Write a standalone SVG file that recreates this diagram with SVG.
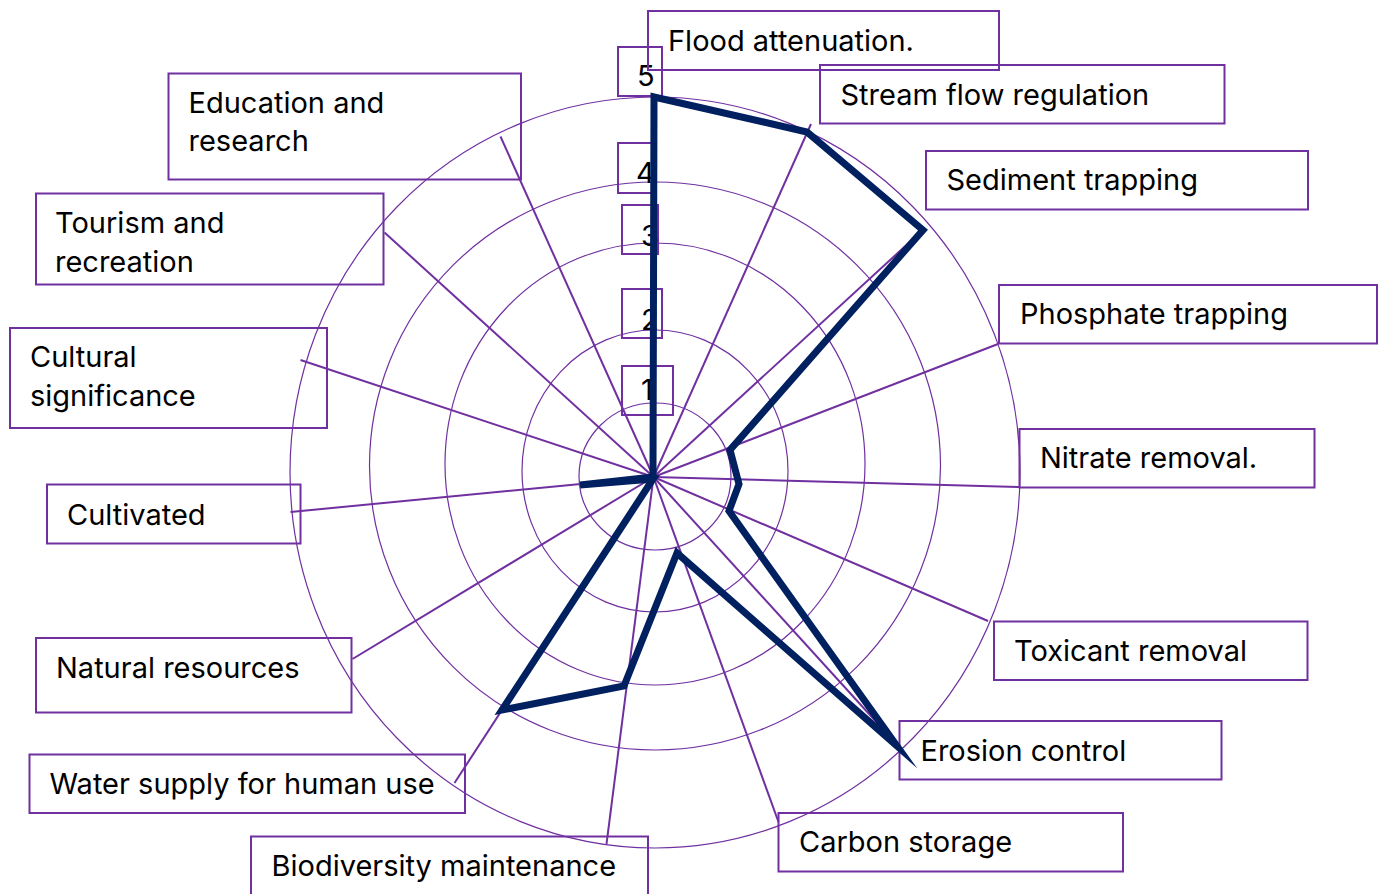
<svg xmlns="http://www.w3.org/2000/svg" width="1378" height="894" viewBox="0 0 1378 894">
<style>
.bg{fill:#fff}
.ring{fill:none;stroke:#7030A0;stroke-width:1.2}
.spoke{stroke:#7030A0;stroke-width:2;fill:none}
.box{fill:none;stroke:#7030A0;stroke-width:2}
.lbl{font-family:Inter,"Liberation Sans",sans-serif;font-size:29px;fill:#000}
.data{fill:none;stroke:#002060;stroke-width:7;stroke-linejoin:miter;stroke-miterlimit:10}
</style>
<rect class="bg" x="0" y="0" width="1378" height="894"/>
<g id="grid">
<ellipse class="ring" cx="655" cy="476.5" rx="76" ry="73.5"/>
<ellipse class="ring" cx="655" cy="471" rx="133" ry="141"/>
<ellipse class="ring" cx="655" cy="464" rx="210" ry="221"/>
<ellipse class="ring" cx="655" cy="466" rx="285.5" ry="284"/>
<ellipse class="ring" cx="655" cy="472.5" rx="365" ry="375.5"/>
</g>
<g id="connectors">
<line class="spoke" x1="653.5" y1="477" x2="654" y2="97"/>
<line class="spoke" x1="653.5" y1="477" x2="811" y2="124"/>
<line class="spoke" x1="653.5" y1="477" x2="925" y2="228"/>
<line class="spoke" x1="653.5" y1="477" x2="998" y2="344"/>
<line class="spoke" x1="653.5" y1="477" x2="1020" y2="487"/>
<line class="spoke" x1="653.5" y1="477" x2="988" y2="621"/>
<line class="spoke" x1="653.5" y1="477" x2="900" y2="748"/>
<line class="spoke" x1="653.5" y1="477" x2="778.5" y2="822"/>
<line class="spoke" x1="653.5" y1="477" x2="606.5" y2="844"/>
<line class="spoke" x1="653.5" y1="477" x2="454.5" y2="783"/>
<line class="spoke" x1="653.5" y1="477" x2="352.5" y2="659"/>
<line class="spoke" x1="653.5" y1="477" x2="290.5" y2="512"/>
<line class="spoke" x1="653.5" y1="477" x2="300.5" y2="360"/>
<line class="spoke" x1="653.5" y1="477" x2="384.5" y2="232.5"/>
<line class="spoke" x1="653.5" y1="477" x2="500.5" y2="136.5"/>
</g>
<g id="axis-labels">
<rect class="box" x="618" y="47" width="44" height="49"/>
<text class="lbl" x="637" y="86">5</text>
<rect class="box" x="618" y="143" width="36" height="50"/>
<text class="lbl" x="636" y="183">4</text>
<rect class="box" x="622" y="205" width="36" height="49"/>
<text class="lbl" x="641" y="246">3</text>
<rect class="box" x="622" y="289" width="40" height="49"/>
<text class="lbl" x="641" y="330">2</text>
<rect class="box" x="622" y="366" width="51" height="49"/>
<text class="lbl" x="641" y="400">1</text>
</g>
<g id="n-flood"><rect class="box" x="648" y="11" width="351" height="59"/><text class="lbl" x="668" y="51">Flood attenuation.</text></g>
<g id="n-stream"><rect class="box" x="820" y="65" width="404.5" height="58.5"/><text class="lbl" x="840.5" y="105">Stream flow regulation</text></g>
<g id="n-sediment"><rect class="box" x="926" y="151" width="382" height="58.5"/><text class="lbl" x="946.5" y="190">Sediment trapping</text></g>
<g id="n-phosphate"><rect class="box" x="999" y="285" width="378" height="58.5"/><text class="lbl" x="1020" y="323.5">Phosphate trapping</text></g>
<g id="n-nitrate"><rect class="box" x="1019.5" y="429" width="295" height="58.5"/><text class="lbl" x="1040" y="467.5">Nitrate removal.</text></g>
<g id="n-toxicant"><rect class="box" x="994" y="621.5" width="313.5" height="58.5"/><text class="lbl" x="1014" y="660.5">Toxicant removal</text></g>
<g id="n-erosion"><rect class="box" x="899.5" y="721" width="322" height="58.5"/><text class="lbl" x="920.5" y="760.5">Erosion control</text></g>
<g id="n-carbon"><rect class="box" x="778.5" y="813" width="344.5" height="58.5"/><text class="lbl" x="799" y="852">Carbon storage</text></g>
<g id="n-biodiversity"><rect class="box" x="251" y="836.5" width="397" height="70"/><text class="lbl" x="271.5" y="876">Biodiversity maintenance</text></g>
<g id="n-water"><rect class="box" x="29.5" y="754.5" width="435.5" height="58.5"/><text class="lbl" x="49.5" y="793.5">Water supply for human use</text></g>
<g id="n-natural"><rect class="box" x="36" y="638" width="315.5" height="74.5"/><text class="lbl" x="56" y="677.5">Natural resources</text></g>
<g id="n-cultivated"><rect class="box" x="47" y="484.5" width="253.5" height="59"/><text class="lbl" x="67" y="524.5">Cultivated</text></g>
<g id="n-cultural"><rect class="box" x="10" y="328" width="317" height="100"/><text class="lbl" x="30" y="367">Cultural</text><text class="lbl" x="30" y="406">significance</text></g>
<g id="n-tourism"><rect class="box" x="36" y="193.5" width="347.5" height="91"/><text class="lbl" x="55" y="232.5">Tourism and</text><text class="lbl" x="55" y="271.5">recreation</text></g>
<g id="n-education"><rect class="box" x="168.5" y="73.5" width="352.5" height="106"/><text class="lbl" x="188.5" y="112.5">Education and</text><text class="lbl" x="188.5" y="151">research</text></g>
<g id="data">
<path class="data" d="M654,97 L807,132 L923,230 L730,450 L739,484 L729,511 L897,746 L677,553 L624,686 L502,710 L653,479 L580,485 L653,477 Z"/>
</g>
</svg>
